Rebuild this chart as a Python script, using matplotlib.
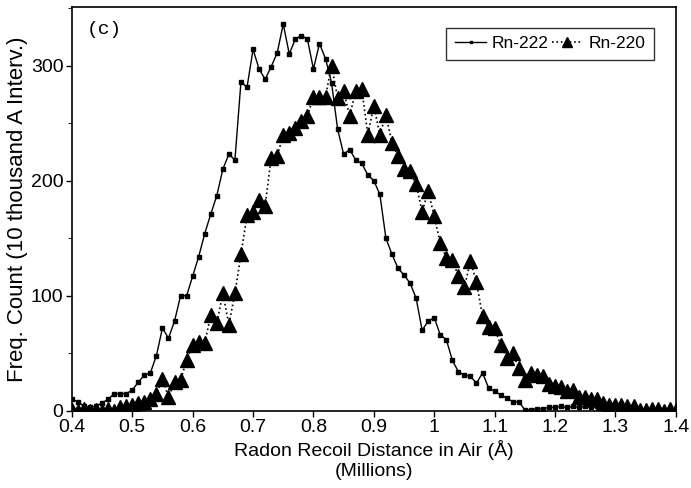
import numpy as np
import matplotlib
matplotlib.use("Agg")
import matplotlib.pyplot as plt
from matplotlib.ticker import MultipleLocator

plt.rcParams["font.family"] = ["Liberation Sans", "DejaVu Sans"]

# recoil distance in millions of angstrom, 10 thousand A bins
distance = np.round(np.arange(0.40, 1.405, 0.01), 2)

rn222 = [
    10, 8, 4, 3, 4, 7, 10, 15, 15, 15,
    18, 25, 31, 33, 48, 72, 63, 78, 100, 100,
    117, 134, 154, 171, 187, 210, 223, 218, 286, 281,
    314, 297, 288, 299, 311, 336, 310, 323, 326, 323,
    297, 319, 306, 285, 245, 223, 227, 218, 215, 205,
    200, 188, 150, 136, 124, 118, 111, 98, 70, 78,
    81, 66, 62, 44, 34, 31, 30, 24, 33, 20,
    17, 14, 11, 8, 8, 1, 1, 2, 2, 3,
    3, 4, 3, 4, 3, 4, 3, 4, 3, 3,
    2, 2, 1, 1, 1, 0, 0, 0, 0, 0,
    0,
]

rn220 = [
    1, 0, 2, 0, 1, 0, 2, 0, 3, 4,
    5, 7, 8, 10, 15, 28, 12, 25, 27, 44,
    57, 60, 59, 83, 76, 102, 75, 102, 136, 170,
    173, 183, 178, 220, 221, 240, 241, 246, 252, 256,
    273, 273, 273, 300, 272, 278, 256, 278, 280, 240,
    265, 240, 257, 233, 221, 210, 208, 197, 173, 191,
    169, 146, 133, 131, 117, 108, 130, 112, 82, 73,
    72, 57, 46, 50, 37, 27, 33, 31, 30, 23,
    22, 21, 17, 18, 12, 12, 10, 10, 7, 5,
    5, 5, 4, 4, 1, 1, 2, 2, 0, 2,
    1,
]

fig = plt.figure(figsize=(6.91, 4.88), dpi=100)
ax = fig.add_axes([0.104, 0.158, 0.874, 0.828])

ax.plot(distance, rn222, color="black", lw=1.0, marker="s",
        markersize=3, label="Rn-222")
ax.plot(distance, rn220, color="black", lw=1.2, ls=":", marker="^",
        markersize=10, label="Rn-220")

ax.set_xlim(0.4, 1.4)
ax.set_ylim(0, 351)
ax.xaxis.set_major_locator(MultipleLocator(0.1))
ax.yaxis.set_major_locator(MultipleLocator(100))
ax.yaxis.set_minor_locator(MultipleLocator(50))
ax.xaxis.set_major_formatter(plt.FuncFormatter(lambda v, p: f"{v:g}"))
ax.tick_params(axis="both", which="major", labelsize=14, length=4,
               direction="out", width=1, pad=2)
ax.tick_params(axis="y", which="minor", length=3)
for s in ax.spines.values():
    s.set_linewidth(1.2)

ax.set_xlabel("Radon Recoil Distance in Air (Å)\n(Millions)", fontsize=14,
              labelpad=3, linespacing=1.2)
ax.set_ylabel("Freq. Count (10 thousand A Interv.)", fontsize=16, labelpad=2)

ax.text(0.025, 0.965, "(c)", transform=ax.transAxes, fontsize=14,
        family="Liberation Mono", va="top")

leg = ax.legend(loc="upper right", bbox_to_anchor=(0.978, 0.97), ncol=2,
                frameon=True, fancybox=False, edgecolor="black",
                fontsize=12.5, handlelength=1.8, columnspacing=0.2,
                handletextpad=0.3, borderpad=0.5, markerscale=0.7)
leg.get_frame().set_linewidth(1.0)

fig.savefig("out.png", dpi=100)
